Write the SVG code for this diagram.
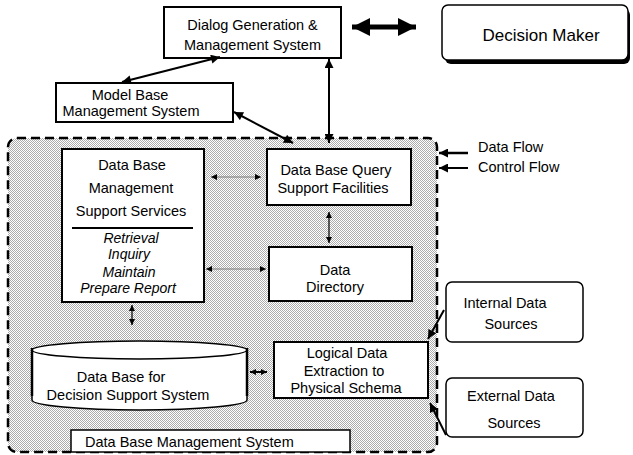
<svg xmlns="http://www.w3.org/2000/svg" width="633" height="455" viewBox="0 0 633 455">
  <defs>
    <!-- fine dither used to shade the DBMS region -->
    <pattern id="dither" width="2" height="2" patternUnits="userSpaceOnUse">
      <rect width="2" height="2" fill="#ffffff"/>
      <rect x="0" y="0" width="1" height="1" fill="#acacac"/>
      <rect x="1" y="1" width="1" height="1" fill="#acacac"/>
    </pattern>
    <marker id="ah" viewBox="0 0 10 10" refX="10" refY="5" markerWidth="11" markerHeight="9" markerUnits="userSpaceOnUse" orient="auto-start-reverse">
      <path d="M0,0 L10,5 L0,10 Z" fill="#000"/>
    </marker>
    <marker id="ahs" viewBox="0 0 10 10" refX="10" refY="5" markerWidth="7" markerHeight="6" markerUnits="userSpaceOnUse" orient="auto-start-reverse">
      <path d="M0,0 L10,5 L0,10 Z" fill="#000"/>
    </marker>
    <marker id="ahb" viewBox="0 0 10 10" refX="10" refY="5" markerWidth="20" markerHeight="18" markerUnits="userSpaceOnUse" orient="auto-start-reverse">
      <path d="M0,0 L10,5 L0,10 Z" fill="#000"/>
    </marker>
  </defs>
  <style>
    text { font-family: "Liberation Sans", Arial, Helvetica, sans-serif; font-size: 14.5px; fill: #000; }
    .c { text-anchor: middle; }
    .it { font-style: italic; font-size: 14px; }
    .box { fill: #fff; stroke: #000; stroke-width: 2; }
    .conn { fill: none; stroke: #000; stroke-width: 2; }
    .thin { fill: none; stroke: #7a7a7a; stroke-width: 1.2; }
  </style>

  <rect width="633" height="455" fill="#fff"/>

  <!-- database management system region -->
  <g id="dbms-region">
    <rect x="8" y="138" width="429" height="314" rx="9" fill="url(#dither)" stroke="#000" stroke-width="2.5" stroke-dasharray="9,5"/>
  </g>

  <g id="dialog">
    <rect class="box" x="164" y="7" width="177" height="51"/>
    <text class="c" x="252.5" y="30">Dialog Generation &amp;</text>
    <text class="c" x="252.5" y="50">Management System</text>
  </g>

  <g id="decision-maker">
    <rect x="445" y="9" width="185" height="55" rx="6" fill="#000"/>
    <rect x="442" y="5" width="186" height="55" rx="6" fill="#fff" stroke="#000" stroke-width="1.5"/>
    <text class="c" x="541" y="41" style="font-size:17px">Decision Maker</text>
  </g>

  <g id="model-base">
    <rect class="box" x="56" y="83" width="177" height="39"/>
    <text class="c" x="130" y="100">Model Base</text>
    <text class="c" x="131" y="116">Management System</text>
  </g>

  <g id="support-services">
    <rect class="box" x="62" y="149" width="142" height="153"/>
    <text class="c" x="132" y="170">Data Base</text>
    <text class="c" x="131" y="193">Management</text>
    <text class="c" x="131" y="216">Support Services</text>
    <line x1="72" y1="228" x2="193" y2="228" stroke="#000" stroke-width="2"/>
    <text class="c it" x="131" y="243">Retrieval</text>
    <text class="c it" x="129" y="259">Inquiry</text>
    <text class="c it" x="129" y="277">Maintain</text>
    <text class="c it" x="128" y="293">Prepare Report</text>
  </g>

  <g id="query-support">
    <rect class="box" x="267" y="149" width="144" height="56"/>
    <text class="c" x="336" y="175">Data Base Query</text>
    <text class="c" x="333" y="193">Support Facilities</text>
  </g>

  <g id="data-directory">
    <rect class="box" x="269" y="247" width="143" height="54"/>
    <text class="c" x="335" y="275">Data</text>
    <text class="c" x="335" y="292">Directory</text>
  </g>

  <g id="dss-database">
    <path d="M32,350 L32,400 A107.5,10 0 0 0 247,400 L247,350" fill="#fff" stroke="#000" stroke-width="1.5"/>
    <ellipse cx="139.5" cy="350" rx="107.5" ry="9" fill="#fff" stroke="#000" stroke-width="1.5"/>
    <line x1="32" y1="348" x2="32" y2="396" stroke="#000" stroke-width="2.5"/>
    <line x1="247" y1="348" x2="247" y2="396" stroke="#000" stroke-width="2.5"/>
    <text class="c" x="121" y="382">Data Base for</text>
    <text class="c" x="128" y="400">Decision Support System</text>
  </g>

  <g id="logical-extraction">
    <rect class="box" x="274" y="342" width="154" height="56"/>
    <text class="c" x="347" y="358">Logical Data</text>
    <text class="c" x="344" y="376">Extraction to</text>
    <text class="c" x="346" y="393">Physical Schema</text>
  </g>

  <g id="dbms-label">
    <rect x="71" y="430" width="279" height="22" fill="#fff" stroke="#000" stroke-width="1.5"/>
    <text x="85" y="447">Data Base Management System</text>
  </g>

  <g id="internal-sources">
    <rect x="446" y="282" width="137" height="60" rx="6" fill="#fff" stroke="#000" stroke-width="1.5"/>
    <text class="c" x="505" y="308">Internal Data</text>
    <text class="c" x="511" y="329">Sources</text>
  </g>

  <g id="external-sources">
    <rect x="446" y="378" width="137" height="59" rx="6" fill="#fff" stroke="#000" stroke-width="1.5"/>
    <text class="c" x="511" y="401">External Data</text>
    <text class="c" x="514" y="428">Sources</text>
  </g>

  <g id="legend">
    <text x="478" y="152">Data Flow</text>
    <text x="478" y="172">Control Flow</text>
  </g>

  <g id="connectors">
    <line x1="352" y1="27" x2="416" y2="27" stroke="#000" stroke-width="5" marker-start="url(#ahb)" marker-end="url(#ahb)"/>
    <line class="conn" x1="122" y1="82" x2="220" y2="57" marker-start="url(#ah)" marker-end="url(#ah)"/>
    <line class="conn" x1="234" y1="112" x2="293" y2="143" marker-start="url(#ah)" marker-end="url(#ah)"/>
    <line class="conn" x1="329" y1="59" x2="329" y2="143" marker-start="url(#ah)" marker-end="url(#ah)"/>
    <line class="thin" x1="211" y1="177" x2="261" y2="177" marker-start="url(#ahs)" marker-end="url(#ahs)"/>
    <line class="thin" x1="206" y1="269" x2="266" y2="269" marker-start="url(#ahs)" marker-end="url(#ahs)"/>
    <line x1="329" y1="212" x2="329" y2="243" stroke="#000" stroke-width="1.2" marker-start="url(#ahs)" marker-end="url(#ahs)"/>
    <line x1="132" y1="305" x2="132" y2="325" stroke="#000" stroke-width="1.2" marker-start="url(#ahs)" marker-end="url(#ahs)"/>
    <line x1="250" y1="372" x2="267" y2="372" stroke="#000" stroke-width="2" marker-start="url(#ahs)" marker-end="url(#ahs)"/>
    <line class="conn" x1="444" y1="310" x2="428" y2="339" marker-end="url(#ah)"/>
    <line class="conn" x1="446" y1="435" x2="430" y2="403" marker-end="url(#ah)"/>
    <line x1="468" y1="153" x2="439" y2="153" stroke="#000" stroke-width="2.5" marker-end="url(#ah)"/>
    <line x1="468" y1="168" x2="439" y2="168" stroke="#000" stroke-width="2" marker-end="url(#ah)"/>
  </g>
</svg>
